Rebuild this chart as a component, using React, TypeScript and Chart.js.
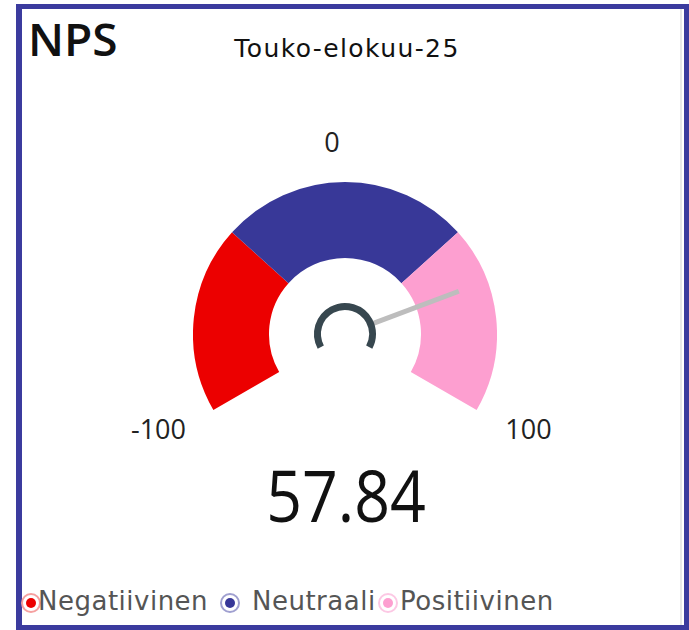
import React, { useEffect, useRef } from "react";
import { Chart, registerables } from "chart.js";

Chart.register(...registerables);

// ---- data ----
const chartTitle = "NPS";
const periodLabel = "Touko-elokuu-25";
const bandLabels = ["Negatiivinen", "Neutraali", "Positiivinen"];
const bandEdges = [-100, -40, 40, 100];
const bandColors = ["#ec0000", "#383898", "#fd9fd0"];
const legendRingColors = ["#f5a0a0", "#a0a0d0", "#fcc8e4"];
const scaleMin = -100;
const scaleMax = 100;
const tickLabels = ["-100", "0", "100"];
const npsValue = 57.84;

const bandValues = bandEdges.slice(1).map((e, i) => e - bandEdges[i]);

const needlePlugin = {
  id: "gaugeNeedle",
  afterDatasetsDraw(chart: any) {
    const meta = chart.getDatasetMeta(0);
    const arc = meta.data[0];
    if (!arc) return;
    const { x, y, outerRadius } = arc.getProps(["x", "y", "outerRadius"], true);
    const ctx = chart.ctx;
    const rot = (-120 * Math.PI) / 180 - Math.PI / 2;
    const circ = (240 * Math.PI) / 180;
    const frac = (npsValue - scaleMin) / (scaleMax - scaleMin);
    const a = rot + frac * circ;
    const hubR = outerRadius * 0.181;
    ctx.save();
    // needle
    ctx.strokeStyle = "#bdbdbd";
    ctx.lineWidth = 5;
    ctx.lineCap = "butt";
    ctx.beginPath();
    ctx.moveTo(x + Math.cos(a) * (hubR + 2), y + Math.sin(a) * (hubR + 2));
    ctx.lineTo(x + Math.cos(a) * outerRadius * 0.8, y + Math.sin(a) * outerRadius * 0.8);
    ctx.stroke();
    // hub arc
    ctx.strokeStyle = "#37474f";
    ctx.lineWidth = 7;
    ctx.beginPath();
    ctx.arc(x, y, hubR, rot + 0.03, rot + circ - 0.03);
    ctx.stroke();
    ctx.restore();
  },
};

function LegendMarker({ color, ring, left }: { color: string; ring: string; left: number }) {
  return (
    <div
      style={{
        position: "absolute",
        left: left - 10,
        top: 603 - 10,
        width: 20,
        height: 20,
        boxSizing: "border-box",
        borderRadius: "50%",
        border: `2px solid ${ring}`,
        background: "#fff",
      }}
    >
      <div
        style={{
          position: "absolute",
          left: 3,
          top: 3,
          width: 10,
          height: 10,
          borderRadius: "50%",
          background: color,
        }}
      />
    </div>
  );
}

export default function App() {
  const canvasRef = useRef<HTMLCanvasElement | null>(null);

  useEffect(() => {
    if (!canvasRef.current) return;
    const chart = new Chart(canvasRef.current, {
      type: "doughnut",
      data: {
        labels: bandLabels,
        datasets: [
          {
            data: bandValues,
            backgroundColor: bandColors,
            borderWidth: 0,
          },
        ],
      },
      options: {
        animation: false,
        responsive: true,
        maintainAspectRatio: false,
        rotation: -120,
        circumference: 240,
        cutout: "50%",
        layout: { padding: 0 },
        plugins: {
          legend: { display: false },
          tooltip: { enabled: false },
          title: { display: false },
        },
      },
      plugins: [needlePlugin],
    });
    return () => chart.destroy();
  }, []);

  const centered = (x: number, y: number, extra: React.CSSProperties = {}): React.CSSProperties => ({
    position: "absolute",
    left: x,
    top: y,
    transform: "translate(-50%, -50%)",
    lineHeight: 1,
    whiteSpace: "nowrap",
    ...extra,
  });

  const legendStarts = [38, 252, 400];
  const legendMarkers = [31, 230, 388];

  return (
    <div
      style={{
        position: "fixed",
        left: 0,
        top: 0,
        width: 689,
        height: 630,
        background: "#fff",
        overflow: "hidden",
      }}
    >
      <div
        style={{
          position: "absolute",
          left: 16,
          top: 4,
          width: 673,
          height: 626,
          boxSizing: "border-box",
          border: "5px solid #3b3b9e",
          borderLeftWidth: 6,
        }}
      />
      <div
        style={{
          position: "absolute",
          left: 680,
          top: 9,
          width: 2,
          height: 616,
          background: "#e8e8e8",
        }}
      />
      <div
        style={{
          position: "absolute",
          left: 28,
          top: 38,
          transform: "translateY(-50%)",
          fontFamily: "'Open Sans', sans-serif",
          fontWeight: 600,
          fontSize: 46,
          lineHeight: 1,
          color: "#111",
        }}
      >
        {chartTitle}
      </div>
      <div
        style={centered(347, 48, {
          fontFamily: "'DejaVu Sans', sans-serif",
          fontSize: 25,
          color: "#111",
          letterSpacing: 1.4,
        })}
      >
        {periodLabel}
      </div>
      <div style={{ position: "absolute", left: 193, top: 182, width: 304, height: 228 }}>
        <canvas ref={canvasRef} />
      </div>
      <div style={centered(332, 141, { fontFamily: "'Open Sans', sans-serif", fontSize: 27, color: "#222" })}>
        {tickLabels[1]}
      </div>
      <div style={centered(158.5, 428, { fontFamily: "'Open Sans', sans-serif", fontSize: 27, color: "#222" })}>
        {tickLabels[0]}
      </div>
      <div style={centered(528.5, 428, { fontFamily: "'Open Sans', sans-serif", fontSize: 27, color: "#222" })}>
        {tickLabels[2]}
      </div>
      <div
        style={centered(346, 494, {
          fontFamily: "'Open Sans', sans-serif",
          fontSize: 72,
          color: "#111",
          transform: "translate(-50%, -50%) scaleX(0.87)",
        })}
      >
        {npsValue.toFixed(2)}
      </div>
      {bandLabels.map((lab, i) => (
        <React.Fragment key={lab}>
          <LegendMarker color={bandColors[i]} ring={legendRingColors[i]} left={legendMarkers[i]} />
          <div
            style={{
              position: "absolute",
              left: legendStarts[i],
              top: 601,
              transform: "translateY(-50%)",
              fontFamily: "'DejaVu Sans', sans-serif",
              fontSize: 26,
              lineHeight: 1,
              color: "#555",
              whiteSpace: "nowrap",
              letterSpacing: 0.5,
            }}
          >
            {lab}
          </div>
        </React.Fragment>
      ))}
    </div>
  );
}
